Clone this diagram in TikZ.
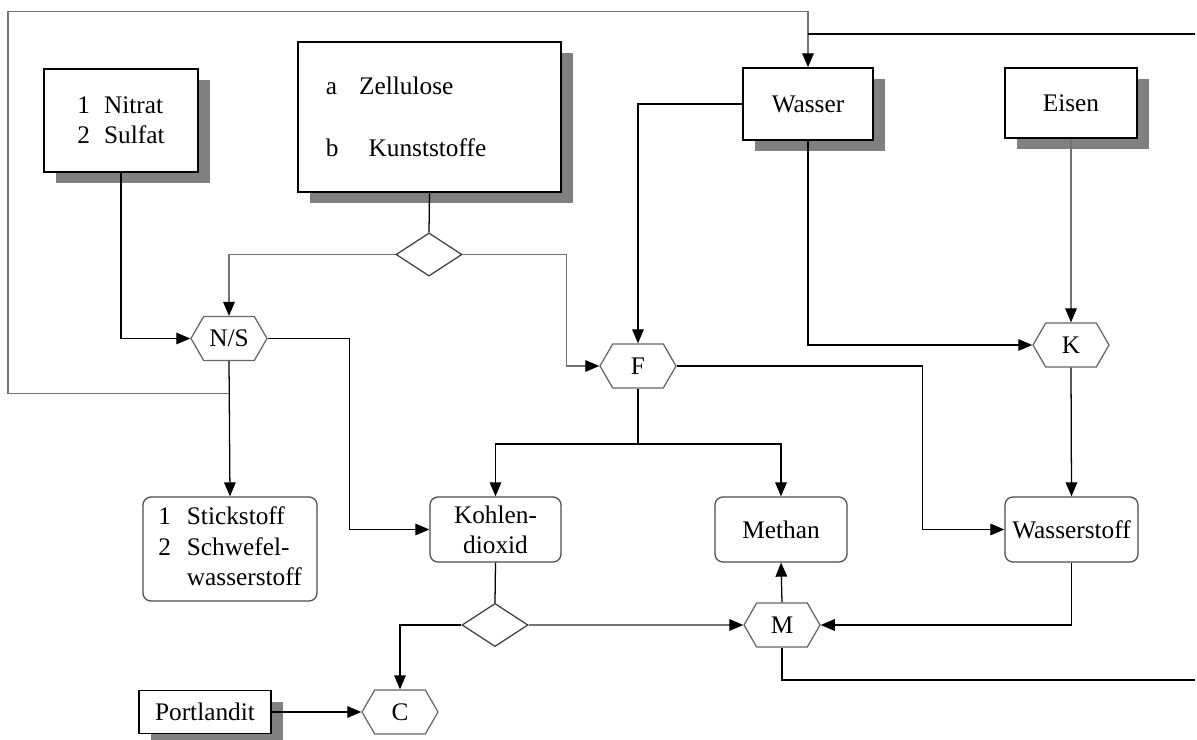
\documentclass[tikz,border=0pt]{standalone}
\usepackage{fontspec}
\setmainfont{Liberation Serif}
\usetikzlibrary{arrows.meta,shapes.geometric,shapes.symbols,shadows}

\begin{document}
\begin{tikzpicture}[x=0.025cm,y=-0.025cm,line width=0.9pt,
  font=\fontsize{18}{21.5}\selectfont,
  arr/.style={-{Triangle[length=0.35cm,width=0.29cm,color=black]}},
  grayline/.style={draw=black!55},
  shadowbox/.style={draw,fill=white,line width=1pt,inner sep=2pt,
    drop shadow={shadow xshift=0.3cm,shadow yshift=-0.28cm,fill=black!50,opacity=1}},
  roundbox/.style={draw=black!70,rounded corners=0.2cm,inner sep=2pt},
  hexbox/.style={signal,signal to=west and east,signal pointer angle=120,
    draw=black!60,minimum width=1.9cm,minimum height=1.1cm,inner sep=0pt},
  branch/.style={diamond,draw=black!75,minimum width=1.65cm,minimum height=1.08cm,inner sep=0pt}]

\useasboundingbox (0,0) rectangle (1197,740);

% sources
\node[shadowbox,minimum width=3.85cm,minimum height=2.58cm,align=left] (Nitrat) at (121,120.5) {1\hspace{0.35cm}Nitrat\\2\hspace{0.35cm}Sulfat};
\node[shadowbox,minimum width=6.575cm,minimum height=3.75cm,text width=5.175cm,inner sep=0.7cm,align=left] (Zellulose) at (429.5,117) {a\hspace{0.55cm}Zellulose\\[0.8cm]b\hspace{0.75cm}Kunststoffe};
\node[shadowbox,minimum width=3.25cm,minimum height=1.8cm] (Wasser) at (808,104) {Wasser};
\node[shadowbox,minimum width=3.3cm,minimum height=1.75cm] (Eisen) at (1071,103) {Eisen};
\node[shadowbox,minimum width=3.3cm,minimum height=1.08cm] (Portlandit) at (205,712) {Portlandit};

% processes
\node[hexbox] (HexNS) at (229,338.5) {N/S};
\node[hexbox] (HexF) at (638,366) {F};
\node[hexbox] (HexK) at (1071,345) {K};
\node[hexbox] (HexM) at (782,625) {M};
\node[hexbox] (HexC) at (400,712) {C};

\node[branch] (BranchA) at (429,254.5) {};
\node[branch] (BranchB) at (495,625) {};

% products
\node[roundbox,minimum width=4.35cm,minimum height=2.6cm] (Stick) at (230,549) {\begin{tabular}{@{}r@{\hspace{0.4cm}}l@{}}1&Stickstoff\\2&Schwefel-\\&wasserstoff\end{tabular}};
\node[roundbox,minimum width=3.275cm,minimum height=1.625cm,align=center] (Kohlen) at (495.5,529.5) {Kohlen-\\dioxid};
\node[roundbox,minimum width=3.3cm,minimum height=1.625cm] (Methan) at (781,529.5) {Methan};
\node[roundbox,minimum width=3.325cm,minimum height=1.625cm] (WStoff) at (1071.5,529.5) {Wasserstoff};

\coordinate (TopRight) at (1195,34);
\coordinate (BottomRight) at (1195,680);

\draw[arr] (Nitrat.south) |- (HexNS.west);
\draw (Zellulose.south) -- (BranchA.north);
\draw[arr,grayline] (BranchA.west) -| (HexNS.north);
\draw[arr,grayline] (BranchA.east) -- ++(104,0) |- (HexF.west);
\draw[arr] (HexNS.east) -- ++(82,0) |- (Kohlen.west);
\draw[arr] (HexNS.south) -- (Stick.north);
\draw[arr,grayline] ([yshift=-0.8cm]HexNS.south) -- ++(-221,0) |- ([yshift=1.4cm]Wasser.north) -- (Wasser.north);
\draw (TopRight) -- (TopRight -| Wasser.north);

\draw[arr] (Wasser.west) -| (HexF.north);
\draw[arr] (Wasser.south) |- (HexK.west);
\draw[arr,grayline] (Eisen.south) -- (HexK.north);
\draw[arr] (HexK.south) -- (WStoff.north);
\draw[arr] (HexF.east) -- ++(246,0) |- (WStoff.west);

\draw[line width=1.6pt] (HexF.south) -- ++(0,55) coordinate (FSplit);
\draw[arr] (FSplit) -| (Kohlen.north);
\draw[arr] (FSplit) -| (Methan.north);
\draw[line width=1.4pt] (FSplit -| Kohlen.north) -- (FSplit -| Methan.north);

\draw (Kohlen.south) -- (BranchB.north);
\draw[arr] (BranchB.west) -| (HexC.north);
\draw[arr,grayline] (BranchB.east) -- (HexM.west);
\draw[arr] (WStoff.south) |- (HexM.east);
\draw[arr] (HexM.north) -- (Methan.south);
\draw (HexM.south) |- (BottomRight);
\draw[arr] (Portlandit.east) -- (HexC.west);

\end{tikzpicture}
\end{document}
